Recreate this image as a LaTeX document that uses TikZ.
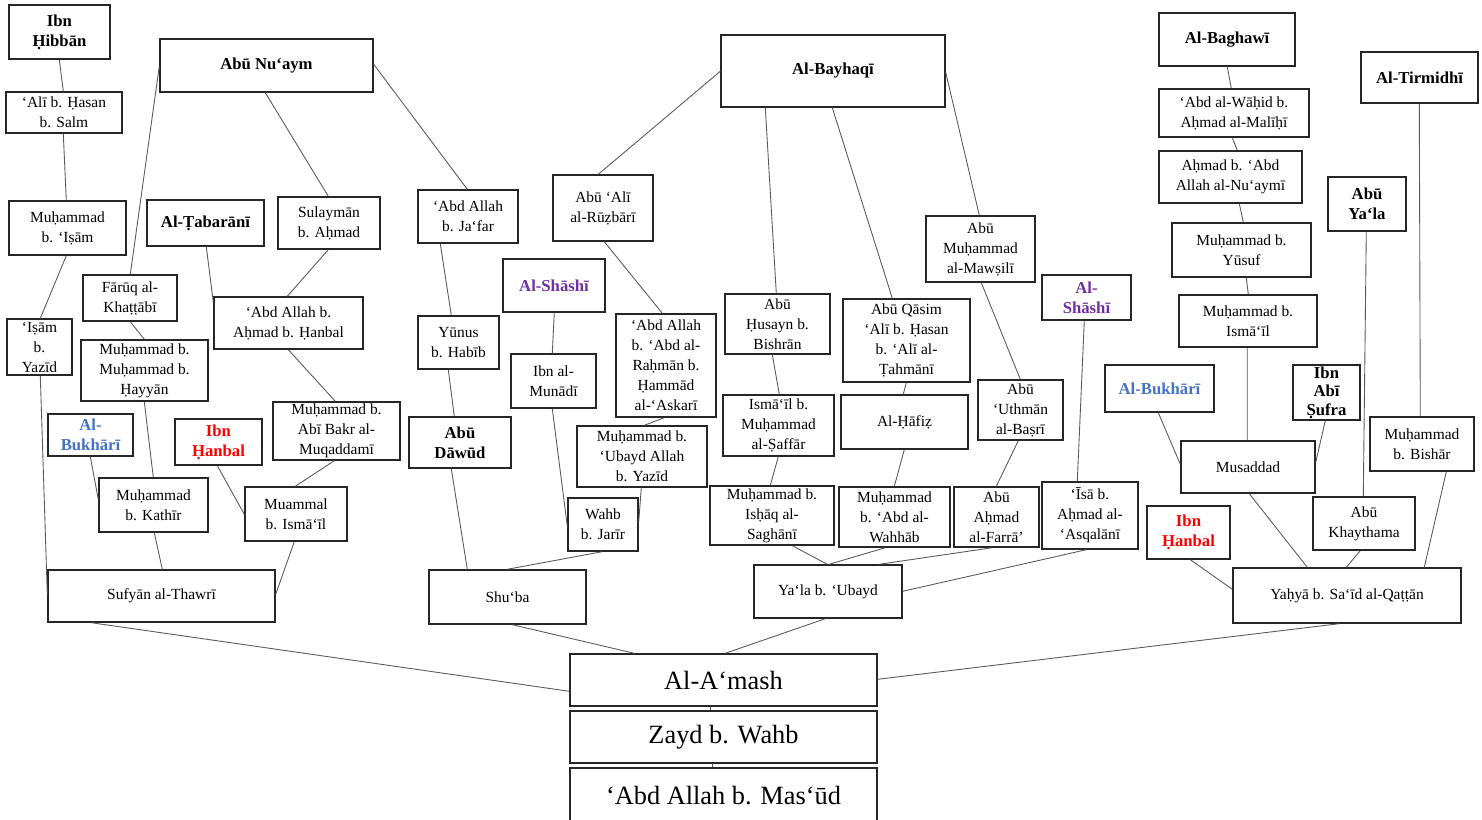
\documentclass[tikz,border=0pt]{standalone}
\usepackage{fontspec}
\setmainfont{Liberation Serif}
\definecolor{bukhblue}{HTML}{4472C4}
\definecolor{hanbalred}{HTML}{FF0000}
\definecolor{shashipurple}{HTML}{7030A0}
% \kbox{name}{left}{top}{right}{bottom}{style}{text}, coordinates in picture units
\newcommand\kbox[7]{%
  \pgfmathsetmacro\kbw{(#4-#2)*0.02}%
  \pgfmathsetmacro\kbh{(#5-#3)*0.02}%
  \node[box,#6,minimum width=\kbw cm,minimum height=\kbh cm] (#1) at ({(#2+#4)/2},{(#3+#5)/2}) {#7};}
\begin{document}
\begin{tikzpicture}[x=0.02cm,y=-0.02cm,
  box/.style={draw=black!85,line width=0.8pt,fill=white,inner sep=0pt,align=center,
    font=\fontsize{8.8}{11.4}\selectfont},
  chief/.style={font=\fontsize{9.5}{11.4}\selectfont\bfseries},
  bluechief/.style={chief,text=bukhblue},
  redchief/.style={chief,text=hanbalred},
  purplechief/.style={chief,text=shashipurple},
  big/.style={font=\fontsize{15}{18}\selectfont},
  wire/.style={draw=black!65,line width=0.5pt}]
\useasboundingbox (0,0) rectangle (1482,820);

% left column
\kbox{ibnh}{9}{5}{110}{59}{chief}{Ibn\\Ḥibbān}
\kbox{ali}{6}{92}{122}{133}{}{‘Alī b. Ḥasan\\b. Salm}
\kbox{mism}{9}{201}{126}{255}{}{Muḥammad\\b. ‘Iṣām}
\kbox{isam}{7}{319}{72}{375}{}{‘Iṣām\\b.\\Yazīd}
\kbox{abunu}{160}{39}{373}{92}{chief}{Abū Nu‘aym}
\kbox{tabar}{147}{200}{264}{246}{chief}{Al-Ṭabarānī}
\kbox{sulay}{278}{197}{380}{249}{}{Sulaymān\\b. Aḥmad}
\kbox{faruq}{83}{275}{177}{321}{}{Fārūq al-\\Khaṭṭābī}
\kbox{abdah}{214}{297}{363}{349}{}{‘Abd Allah b.\\Aḥmad b. Ḥanbal}
\kbox{mmh}{81}{340}{208}{401}{}{Muḥammad b.\\Muḥammad b.\\Ḥayyān}
\kbox{bukhl}{48}{414}{133}{456}{bluechief}{Al-\\Bukhārī}
\kbox{hanbl}{175}{419}{262}{465}{redchief}{Ibn\\Ḥanbal}
\kbox{muqad}{273}{402}{400}{460}{}{Muḥammad b.\\Abī Bakr al-\\Muqaddamī}
\kbox{kathir}{99}{478}{208}{532}{}{Muḥammad\\b. Kathīr}
\kbox{muammal}{245}{487}{347}{541}{}{Muammal\\b. Ismā‘īl}
\kbox{sufyan}{48}{570}{275}{622}{}{Sufyān al-Thawrī}

% Shu'ba branch
\kbox{jafar}{418}{190}{518}{243}{}{‘Abd Allah\\b. Ja‘far}
\kbox{yunus}{418}{316}{499}{369}{}{Yūnus\\b. Habīb}
\kbox{dawud}{409}{417}{511}{468}{chief}{Abū\\Dāwūd}
\kbox{shuba}{429}{570}{586}{624}{}{Shu‘ba}
\kbox{shashil}{503}{259}{605}{312}{purplechief}{Al-Shāshī}
\kbox{munadi}{511}{354}{596}{408}{}{Ibn al-\\Munādī}
\kbox{ruz}{553}{175}{653}{241}{}{Abū ‘Alī\\al-Rūẓbārī}
\kbox{askari}{616}{314}{716}{417}{}{‘Abd Allah\\b. ‘Abd al-\\Raḥmān b.\\Ḥammād\\al-‘Askarī}
\kbox{ubayd}{577}{426}{707}{487}{}{Muḥammad b.\\‘Ubayd Allah\\b. Yazīd}
\kbox{wahb}{568}{498}{638}{551}{}{Wahb\\b. Jarīr}

% Ya'la branch
\kbox{bayh}{721}{35}{945}{107}{chief}{Al-Bayhaqī}
\kbox{mawsili}{926}{216}{1035}{282}{}{Abū\\Muḥammad\\al-Mawṣilī}
\kbox{bishran}{725}{294}{830}{354}{}{Abū\\Ḥusayn b.\\Bishrān}
\kbox{tahmani}{843}{299}{970}{382}{}{Abū Qāsim\\‘Alī b. Ḥasan\\b. ‘Alī al-\\Ṭahmānī}
\kbox{shashir}{1042}{275}{1131}{320}{purplechief}{Al-\\Shāshī}
\kbox{saffar}{723}{395}{834}{456}{}{Ismā‘īl b.\\Muḥammad\\al-Ṣaffār}
\kbox{hafiz}{841}{395}{968}{449}{}{Al-Ḥāfiẓ}
\kbox{basri}{978}{380}{1063}{440}{}{Abū\\‘Uthmān\\al-Baṣrī}
\kbox{saghani}{710}{486}{834}{545}{}{Muḥammad b.\\Isḥāq al-\\Saghānī}
\kbox{wahhab}{839}{487}{950}{547}{}{Muḥammad\\b. ‘Abd al-\\Wahhāb}
\kbox{farra}{954}{487}{1039}{547}{}{Abū\\Aḥmad\\al-Farrā’}
\kbox{asqal}{1042}{482}{1138}{549}{}{‘Īsā b.\\Aḥmad al-\\‘Asqalānī}
\kbox{yala}{754}{565}{902}{618}{}{Ya‘la b. ‘Ubayd}

% Yahya branch
\kbox{baghawi}{1159}{13}{1295}{66}{chief}{Al-Baghawī}
\kbox{wahid}{1159}{89}{1309}{137}{}{‘Abd al-Wāḥid b.\\Aḥmad al-Malīḥī}
\kbox{numi}{1159}{151}{1302}{203}{}{Aḥmad b. ‘Abd\\Allah al-Nu‘aymī}
\kbox{yusuf}{1172}{223}{1311}{277}{}{Muḥammad b.\\Yūsuf}
\kbox{ismail}{1179}{295}{1317}{347}{}{Muḥammad b.\\Ismā‘īl}
\kbox{tirm}{1361}{52}{1478}{103}{chief}{Al-Tirmidhī}
\kbox{abuyala}{1328}{177}{1406}{231}{chief}{Abū\\Ya‘la}
\kbox{bukhr}{1105}{365}{1214}{412}{bluechief}{Al-Bukhārī}
\kbox{sufra}{1293}{365}{1360}{420}{chief,font=\fontsize{9.5}{10.6}\selectfont\bfseries}{Ibn\\Abī\\Ṣufra}
\kbox{bishar}{1370}{417}{1474}{471}{}{Muḥammad\\b. Bishār}
\kbox{musad}{1181}{441}{1315}{493}{}{Musaddad}
\kbox{khayth}{1313}{497}{1415}{550}{}{Abū\\Khaythama}
\kbox{hanbr}{1147}{506}{1230}{559}{redchief}{Ibn\\Ḥanbal}
\kbox{yahya}{1233}{568}{1461}{623}{}{Yaḥyā b. Sa‘īd al-Qaṭṭān}

% common trunk
\kbox{amash}{570}{654}{877}{706}{big}{Al-A‘mash}
\kbox{zayd}{570}{711}{877}{763}{big}{Zayd b. Wahb}
\kbox{masud}{570}{768}{877}{824}{big}{‘Abd Allah b. Mas‘ūd}

% connectors
\draw[wire] ([shift={(51,0)}]ibnh.south west) -- ([shift={(58,0)}]ali.north west);
\draw[wire] ([shift={(58,0)}]ali.south west) -- ([shift={(58,0)}]mism.north west);
\draw[wire] ([shift={(58,0)}]mism.south west) -- ([shift={(34,0)}]isam.north west);
\draw[wire] ([shift={(34,0)}]isam.south west) -- ([shift={(0,25)}]sufyan.north west);
\draw[wire] ([shift={(0,28)}]abunu.north west) -- ([shift={(48,0)}]faruq.north west);
\draw[wire] ([shift={(48,0)}]faruq.south west) -- ([shift={(64,0)}]mmh.north west);
\draw[wire] ([shift={(64,0)}]mmh.south west) -- ([shift={(55,0)}]kathir.north west);
\draw[wire] ([shift={(43,0)}]bukhl.south west) -- ([shift={(0,22)}]kathir.north west);
\draw[wire] ([shift={(56,0)}]kathir.south west) -- ([shift={(115,0)}]sufyan.north west);
\draw[wire] ([shift={(106,0)}]abunu.south west) -- ([shift={(51,0)}]sulay.north west);
\draw[wire] ([shift={(51,0)}]sulay.south west) -- ([shift={(74,0)}]abdah.north west);
\draw[wire] ([shift={(60,0)}]tabar.south west) -- ([shift={(0,6)}]abdah.north west);
\draw[wire] ([shift={(75,0)}]abdah.south west) -- ([shift={(63,0)}]muqad.north west);
\draw[wire] ([shift={(62,0)}]muqad.south west) -- ([shift={(51,0)}]muammal.north west);
\draw[wire] ([shift={(43,0)}]hanbl.south west) -- ([shift={(0,28)}]muammal.north west);
\draw[wire] ([shift={(50,0)}]muammal.south west) -- ([shift={(0,25)}]sufyan.north east);

\draw[wire] ([shift={(0,26)}]abunu.north east) -- ([shift={(50,0)}]jafar.north west);
\draw[wire] ([shift={(23,0)}]jafar.south west) -- ([shift={(34,0)}]yunus.north west);
\draw[wire] ([shift={(31,0)}]yunus.south west) -- ([shift={(46,0)}]dawud.north west);
\draw[wire] ([shift={(43,0)}]dawud.south west) -- ([shift={(39,0)}]shuba.north west);
\draw[wire] ([shift={(52,0)}]shashil.south west) -- ([shift={(42,0)}]munadi.north west);
\draw[wire] ([shift={(42,0)}]munadi.south west) -- ([shift={(0,29)}]wahb.north west);
\draw[wire] ([shift={(35,0)}]wahb.south west) -- ([shift={(79,0)}]shuba.north west);
\draw[wire] ([shift={(65,0)}]ubayd.south west) -- ([shift={(0,25)}]wahb.north east);
\draw[wire] ([shift={(49,0)}]askari.south west) -- ([shift={(68,0)}]ubayd.north west);
\draw[wire] ([shift={(52,0)}]ruz.south west) -- ([shift={(47,0)}]askari.north west);

\draw[wire] ([shift={(0,37)}]bayh.north west) -- ([shift={(46,0)}]ruz.north west);
\draw[wire] ([shift={(45,0)}]bayh.south west) -- ([shift={(52,0)}]bishran.north west);
\draw[wire] ([shift={(112,0)}]bayh.south west) -- ([shift={(50,0)}]tahmani.north west);
\draw[wire] ([shift={(0,38)}]bayh.north east) -- ([shift={(54,0)}]mawsili.north west);
\draw[wire] ([shift={(48,0)}]bishran.south west) -- ([shift={(57,0)}]saffar.north west);
\draw[wire] ([shift={(56,0)}]saffar.south west) -- ([shift={(61,0)}]saghani.north west);
\draw[wire] ([shift={(64,0)}]tahmani.south west) -- ([shift={(63,0)}]hafiz.north west);
\draw[wire] ([shift={(64,0)}]hafiz.south west) -- ([shift={(56,0)}]wahhab.north west);
\draw[wire] ([shift={(56,0)}]mawsili.south west) -- ([shift={(43,0)}]basri.north west);
\draw[wire] ([shift={(41,0)}]basri.south west) -- ([shift={(43,0)}]farra.north west);
\draw[wire] ([shift={(43,0)}]shashir.south west) -- ([shift={(36,0)}]asqal.north west);
\draw[wire] ([shift={(83,0)}]saghani.south west) -- ([shift={(74,0)}]yala.north west);
\draw[wire] ([shift={(47,0)}]wahhab.south west) -- ([shift={(76,0)}]yala.north west);
\draw[wire] ([shift={(39,0)}]farra.south west) -- ([shift={(126,0)}]yala.north west);
\draw[wire] ([shift={(45,0)}]asqal.south west) -- ([shift={(0,27)}]yala.north east);

\draw[wire] ([shift={(69,0)}]baghawi.south west) -- ([shift={(73,0)}]wahid.north west);
\draw[wire] ([shift={(74,0)}]wahid.south west) -- ([shift={(79,0)}]numi.north west);
\draw[wire] ([shift={(81,0)}]numi.south west) -- ([shift={(72,0)}]yusuf.north west);
\draw[wire] ([shift={(75,0)}]yusuf.south west) -- ([shift={(70,0)}]ismail.north west);
\draw[wire] ([shift={(69,0)}]ismail.south west) -- ([shift={(67,0)}]musad.north west);
\draw[wire] ([shift={(54,0)}]bukhr.south west) -- ([shift={(0,24)}]musad.north west);
\draw[wire] ([shift={(33,0)}]sufra.south west) -- ([shift={(0,22)}]musad.north east);
\draw[wire] ([shift={(69,0)}]musad.south west) -- ([shift={(75,0)}]yahya.north west);
\draw[wire] ([shift={(39,0)}]abuyala.south west) -- ([shift={(51,0)}]khayth.north west);
\draw[wire] ([shift={(48,0)}]khayth.south west) -- ([shift={(114,0)}]yahya.north west);
\draw[wire] ([shift={(59,0)}]tirm.south west) -- ([shift={(51,0)}]bishar.north west);
\draw[wire] ([shift={(77,0)}]bishar.south west) -- ([shift={(192,0)}]yahya.north west);
\draw[wire] ([shift={(44,0)}]hanbr.south west) -- ([shift={(0,22)}]yahya.north west);

\draw[wire] ([shift={(44,0)}]sufyan.south west) -- ([shift={(0,38)}]amash.north west);
\draw[wire] ([shift={(84,0)}]shuba.south west) -- ([shift={(65,0)}]amash.north west);
\draw[wire] ([shift={(72,0)}]yala.south west) -- ([shift={(156,0)}]amash.north west);
\draw[wire] ([shift={(107,0)}]yahya.south west) -- ([shift={(0,26)}]amash.north east);
\draw[wire] ([shift={(141,0)}]amash.south west) -- ([shift={(141,0)}]zayd.north west);
\draw[wire] ([shift={(143,0)}]zayd.south west) -- ([shift={(143,0)}]masud.north west);
\end{tikzpicture}
\end{document}
